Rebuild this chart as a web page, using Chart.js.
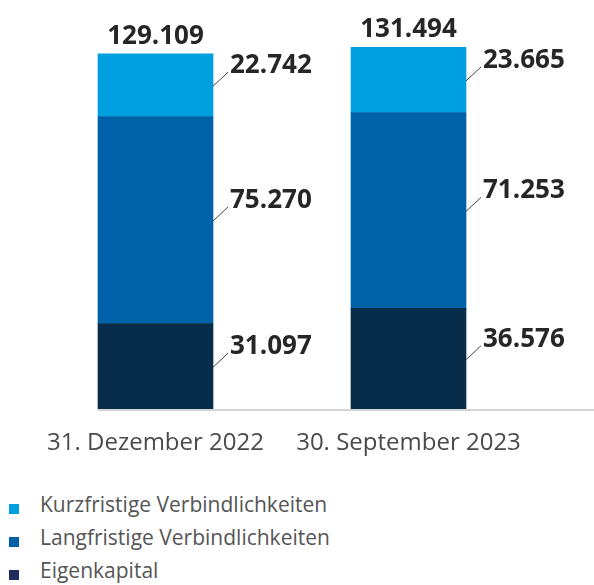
<!DOCTYPE html>
<html>
<head>
<meta charset="utf-8">
<script src="https://cdn.jsdelivr.net/npm/chart.js@4"></script>
<style>
  html, body { margin: 0; padding: 0; background: #ffffff; }
  body { width: 594px; height: 585px; position: relative; overflow: hidden; font-family: "Open Sans", sans-serif; }
  #wrap { position: absolute; left: 0; top: 0; width: 594px; height: 470px; }
  #legend { position: absolute; left: 0; top: 488px; width: 594px; }
  .row { position: relative; height: 33px; line-height: 33px; font-size: 21px; color: #555555; padding-left: 40px; white-space: nowrap; }
  .sw { position: absolute; left: 9px; top: 16px; width: 10px; height: 10px; }
</style>
</head>
<body>
<div id="wrap"><canvas id="c"></canvas></div>
<div id="legend"></div>
<script>
const categories = ['31. Dezember 2022', '30. September 2023'];
const seriesNames = ['Eigenkapital', 'Langfristige Verbindlichkeiten', 'Kurzfristige Verbindlichkeiten'];
const eigenkapital = [31097, 36576];
const langfristige = [75270, 71253];
const kurzfristige = [22742, 23665];
const totals = [129109, 131494];
const barColors = ['#072d4a', '#0062a9', '#009fdf'];
const legendColors = ['#1f2b5c', '#0060a8', '#00a0e0'];

function fmt(v) {
  return Math.round(v).toString().replace(/\B(?=(\d{3})+(?!\d))/g, '.');
}

const labelPlugin = {
  id: 'labels',
  afterDatasetsDraw(chart) {
    const ctx = chart.ctx;
    const yScale = chart.scales.y;
    const base = yScale.getPixelForValue(0);
    ctx.save();
    // baseline rule
    const firstBar = chart.getDatasetMeta(0).data[0];
    ctx.fillStyle = '#d4d4d4';
    ctx.fillRect(firstBar.x - firstBar.width / 2, base, chart.width - (firstBar.x - firstBar.width / 2), 2);
    // segment labels
    ctx.font = 'bold 26px "Open Sans"';
    ctx.fillStyle = '#262626';
    ctx.textAlign = 'left';
    ctx.textBaseline = 'alphabetic';
    chart.data.datasets.forEach((ds, i) => {
      const meta = chart.getDatasetMeta(i);
      meta.data.forEach((el, j) => {
        const right = el.x + el.width / 2;
        const cy = (el.y + el.base) / 2;
        ctx.strokeStyle = '#444444';
        ctx.lineWidth = 1;
        ctx.beginPath();
        ctx.moveTo(right, cy + 1);
        ctx.lineTo(right + 15, cy - 13);
        ctx.stroke();
        ctx.fillText(fmt(ds.data[j]), right + 17, cy - 12);
      });
    });
    // totals
    ctx.textAlign = 'center';
    const topMeta = chart.getDatasetMeta(chart.data.datasets.length - 1);
    topMeta.data.forEach((el, j) => {
      ctx.fillText(fmt(totals[j]), el.x, el.y - 10);
    });
    ctx.restore();
  }
};

new Chart(document.getElementById('c'), {
  type: 'bar',
  data: {
    labels: categories,
    datasets: [
      { label: seriesNames[0], data: eigenkapital, backgroundColor: barColors[0] },
      { label: seriesNames[1], data: langfristige, backgroundColor: barColors[1] },
      { label: seriesNames[2], data: kurzfristige, backgroundColor: barColors[2] }
    ]
  },
  options: {
    responsive: true,
    maintainAspectRatio: false,
    animation: false,
    layout: { padding: { left: 29, right: 59, top: 24, bottom: 0 } },
    datasets: { bar: { barThickness: 115, borderWidth: 0 } },
    plugins: { legend: { display: false }, tooltip: { enabled: false } },
    scales: {
      x: {
        stacked: true,
        grid: { display: false },
        border: { display: false },
        ticks: { font: { family: 'Open Sans', size: 24 }, color: '#4a4a4a', padding: 12, maxRotation: 0 },
        afterFit(s) { s.height = 61; }
      },
      y: {
        stacked: true,
        display: false,
        min: 0,
        max: 140000
      }
    }
  },
  plugins: [labelPlugin]
});

const legend = document.getElementById('legend');
[2, 1, 0].forEach(i => {
  const row = document.createElement('div');
  row.className = 'row';
  const sw = document.createElement('span');
  sw.className = 'sw';
  sw.style.background = legendColors[i];
  row.appendChild(sw);
  row.appendChild(document.createTextNode(seriesNames[i]));
  legend.appendChild(row);
});
</script>
</body>
</html>
